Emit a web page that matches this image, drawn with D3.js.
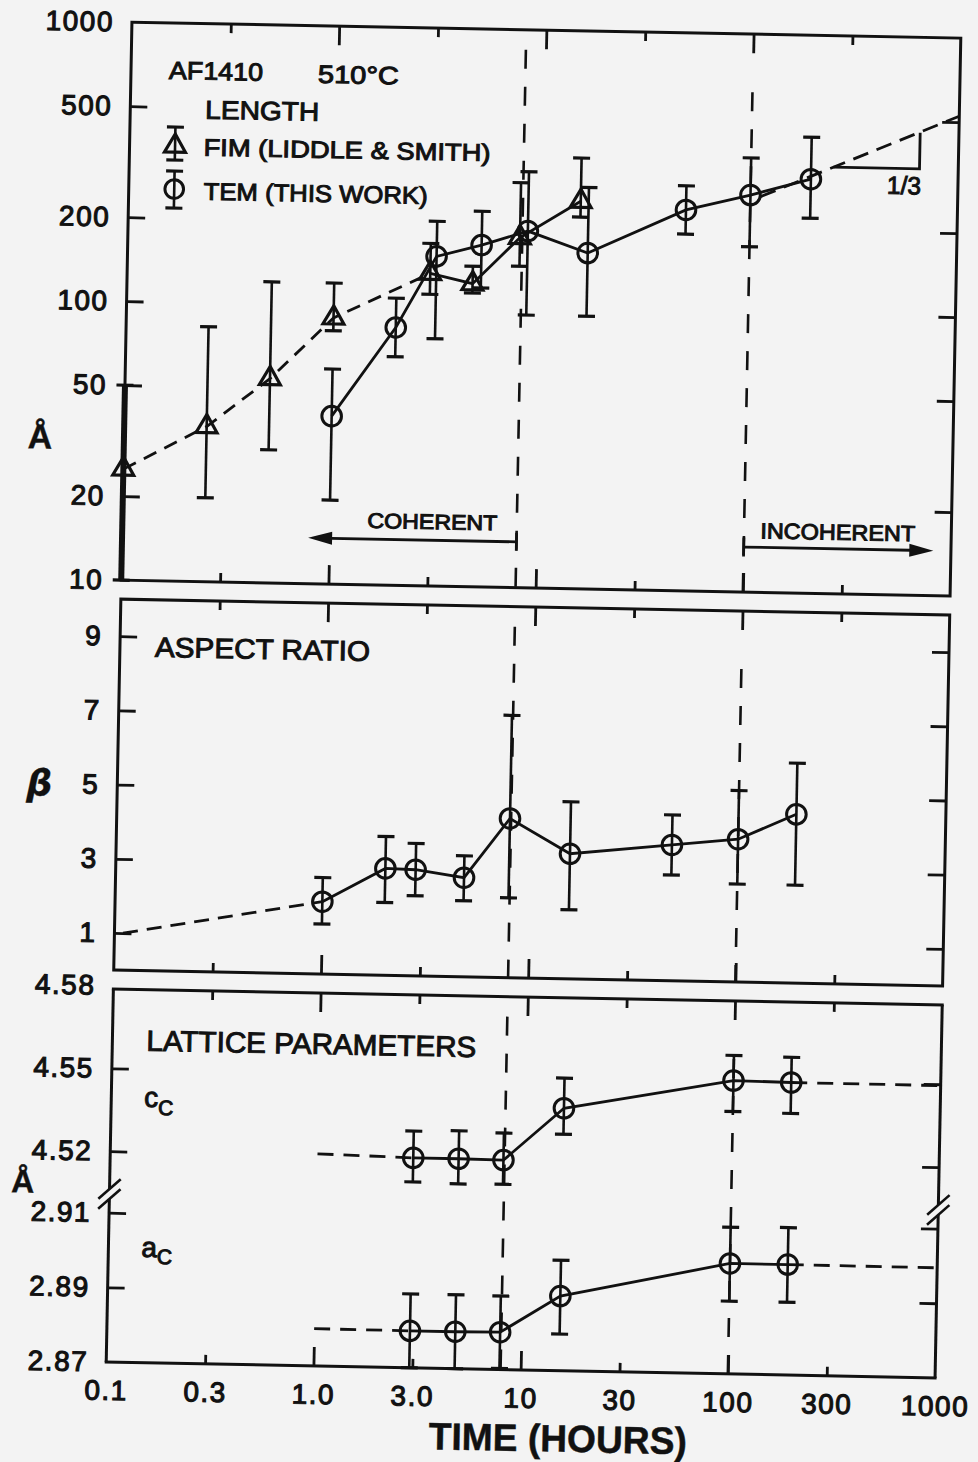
<!DOCTYPE html>
<html>
<head>
<meta charset="utf-8">
<script src="https://cdn.jsdelivr.net/npm/d3@7"></script>
<style>
  html, body { margin: 0; padding: 0; background: #f3f3f3; }
  svg { display: block; }
  text { font-family: "Liberation Sans", Arial, sans-serif; fill: #111; }
</style>
</head>
<body>
<script>
// ---- time axis ----
const timeTicks = [0.1, 0.3, 1, 3, 10, 30, 100, 300, 1000];
const timeTickLabels = ["0.1", "0.3", "1.0", "3.0", "10", "30", "100", "300", "1000"];
const timeMajor = [1, 10, 100];
const timeMinor = [0.3, 3, 30, 300];
const regimeBounds = [8, 100];

// ---- length panel (Å, log) ----
const lengthTicks = [20, 50, 100, 200, 500];
const lengthLabels = [10, 20, 50, 100, 200, 500, 1000];
const fimTime   = [0.1, 0.25, 0.5, 1.0, 2.9, 4.65, 7.8, 15.2];
const fimLength = [25, 36, 54, 90, 132, 122, 180, 245];
const fimLow    = [10, 20, 30, 81, 111, 113, 142, 215];
const fimHigh   = [50, 82, 120, 120, 169, 141, 283, 350];
const fimDashedCount = 5;
const temTime   = [1.0, 2.0, 3.1, 5.1, 8.5, 16.6, 49, 100, 195];
const temLength = [40, 84, 152, 168, 190, 160, 232, 265, 305];
const temLow    = [20, 66, 77, 118, 95, 95, 190, 173, 221];
const temHigh   = [59, 107, 203, 222, 310, 275, 283, 360, 431];
const lengthTrendTime = [112, 1000];
const lengthTrend     = [262, 525];

// ---- aspect ratio panel ----
const betaTicks = [1, 3, 5, 7, 9];
const betaTime = [1.0, 2.0, 2.8, 4.8, 7.9, 15.5, 48, 100, 190];
const beta     = [1.95, 2.88, 2.86, 2.67, 4.29, 3.37, 3.66, 3.85, 4.55];
const betaLow  = [1.35, 1.96, 2.16, 2.05, 2.15, 1.86, 2.85, 2.64, 2.64];
const betaHigh = [2.6, 3.74, 3.57, 3.26, 7.07, 4.77, 4.47, 5.16, 5.93];
const betaTrendTime = [0.11, 1.0];
const betaTrend     = [1.0, 1.95];

// ---- lattice parameter panel (Å) ----
const cTicks = [4.52, 4.55];
const cLabels = [4.52, 4.55, 4.58];
const aTicks = [2.89, 2.91];
const aLabels = [2.87, 2.89, 2.91];
const latticeTime = [2.9, 4.8, 7.9, 15.3, 100, 190];
const cLattice = [4.5197, 4.5197, 4.5195, 4.5387, 4.5499, 4.5496];
const cLow     = [4.5110, 4.5106, 4.5108, 4.5293, 4.5387, 4.5384];
const cHigh    = [4.5294, 4.5298, 4.5293, 4.5496, 4.5590, 4.5587];
const aLattice = [2.8799, 2.8799, 2.8800, 2.8900, 2.8996, 2.8996];
const aLow     = [2.8700, 2.8700, 2.8703, 2.8798, 2.8895, 2.8895];
const aHigh    = [2.8898, 2.8898, 2.8897, 2.8996, 2.9093, 2.9095];
const cTrendTime = [[1.0, 2.9], [190, 1000]];
const cTrend     = [[4.5205, 4.5197], [4.5496, 4.5495]];
const aTrendTime = [[1.0, 2.9], [190, 1000]];
const aTrend     = [[2.8800, 2.8799], [2.8996, 2.8995]];

// ---------------------------------------------------------------
const W = 978, H = 1462;
const INK = "#111";
const svg = d3.select("body").append("svg").attr("width", W).attr("height", H);
svg.append("rect").attr("width", W).attr("height", H).attr("fill", "#f3f3f3");
const g = svg.append("g").attr("transform", "rotate(1.1,530,700)");

const x = d3.scaleLog().domain([0.1, 1000]).range([119, 948]);
const X0 = x.range()[0], X1 = x.range()[1];

const p1 = { top: 30, bottom: 588 };
const y1 = d3.scaleLog().domain([10, 1000]).range([p1.bottom, p1.top]);
const p2 = { top: 607, bottom: 978 };
const y2 = d3.scaleLinear().domain([0, 10]).range([p2.bottom, p2.top]);
const p3 = { top: 997, bottom: 1370, brk: 1202 };
const y3c = d3.scaleLinear().domain([4.52, 4.55]).range([1159.2, 1076.3]);
const y3a = d3.scaleLinear().domain([2.87, 2.91]).range([1370, 1220.7]);

const LINE_W = 2.8, FRAME_W = 3, TICK_W = 2.8;

function styleAxis(sel) {
  sel.select(".domain").remove();
  sel.selectAll("line").attr("stroke", INK).attr("stroke-width", TICK_W);
}
function styleLabels(sel, size, spacing) {
  sel.select(".domain").remove();
  sel.selectAll("line").remove();
  sel.attr("font-family", null).attr("font-size", null);
  sel.selectAll("text")
    .attr("font-size", size).attr("letter-spacing", spacing || 1.5)
    .attr("fill", INK).attr("stroke", INK).attr("stroke-width", 1.1);
}

// time ticks on top and bottom of each panel, pointing inward
function timeTicksFor(top, bottom) {
  [[timeMajor, 19], [timeMinor, 9]].forEach(([vals, len]) => {
    g.append("g").attr("transform", `translate(0,${top})`)
      .call(d3.axisBottom(x).tickValues(vals).tickSize(len).tickFormat(""))
      .call(styleAxis);
    g.append("g").attr("transform", `translate(0,${bottom})`)
      .call(d3.axisTop(x).tickValues(vals).tickSize(len).tickFormat(""))
      .call(styleAxis);
  });
}
function valueTicks(scale, vals, len) {
  g.append("g").attr("transform", `translate(${X0},0)`)
    .call(d3.axisRight(scale).tickValues(vals).tickSize(len).tickFormat(""))
    .call(styleAxis);
  g.append("g").attr("transform", `translate(${X1},0)`)
    .call(d3.axisLeft(scale).tickValues(vals).tickSize(len).tickFormat(""))
    .call(styleAxis);
}
function valueLabels(scale, vals, fmt) {
  g.append("g").attr("transform", `translate(${X0},0)`)
    .call(d3.axisLeft(scale).tickValues(vals).tickSize(0).tickPadding(18).tickFormat(fmt))
    .call(s => styleLabels(s, 28, 1.5));
}

function frame(top, bottom) {
  g.append("rect").attr("x", X0).attr("y", top).attr("width", X1 - X0).attr("height", bottom - top)
    .attr("fill", "none").attr("stroke", INK).attr("stroke-width", FRAME_W);
}

function regimeLines(top, bottom) {
  const starts = [20, 58];
  regimeBounds.forEach((t, i) => {
    g.append("line").attr("x1", x(t)).attr("x2", x(t))
      .attr("y1", top + starts[i]).attr("y2", bottom)
      .attr("stroke", INK).attr("stroke-width", 2.6).attr("stroke-dasharray", "19,18");
  });
}

function errorBars(xs, lows, highs, yS, thickAtAxis) {
  const layer = g.append("g");
  xs.forEach((t, i) => {
    const cx = x(t), ya = yS(lows[i]), yb = yS(highs[i]);
    const wide = thickAtAxis && t <= x.domain()[0];
    layer.append("line").attr("x1", cx).attr("x2", cx).attr("y1", ya).attr("y2", yb)
      .attr("stroke", INK).attr("stroke-width", wide ? 6 : 2.6);
    [ya, yb].forEach(yy => layer.append("line")
      .attr("x1", cx - 8.5).attr("x2", cx + 8.5).attr("y1", yy).attr("y2", yy)
      .attr("stroke", INK).attr("stroke-width", 3.2));
  });
}

function path(xs, ys, yS, dash) {
  const line = d3.line().x(d => x(d[0])).y(d => yS(d[1]));
  g.append("path").datum(xs.map((t, i) => [t, ys[i]])).attr("d", line)
    .attr("fill", "none").attr("stroke", INK).attr("stroke-width", LINE_W)
    .attr("stroke-dasharray", dash || null);
}

const tri = d3.symbol().type(d3.symbolTriangle).size(190);
function markers(xs, ys, yS, kind) {
  xs.forEach((t, i) => {
    if (kind === "triangle") {
      g.append("path").attr("d", tri())
        .attr("transform", `translate(${x(t)},${yS(ys[i])})`)
        .attr("fill", "none").attr("stroke", INK).attr("stroke-width", 3.2);
    } else {
      g.append("circle").attr("cx", x(t)).attr("cy", yS(ys[i])).attr("r", 9.8)
        .attr("fill", "none").attr("stroke", INK).attr("stroke-width", 3);
    }
  });
}

function note(text, x0, y0, size, len, opts) {
  const o = opts || {};
  const t = g.append("text").attr("x", x0).attr("y", y0).attr("font-size", size)
    .attr("text-anchor", o.anchor || "start")
    .attr("font-weight", o.weight || "normal")
    .attr("font-style", o.italic ? "italic" : null)
    .attr("stroke", INK).attr("stroke-width", o.stroke == null ? 1.0 : o.stroke)
    .text(text);
  if (o.family) t.style("font-family", o.family);
  if (len) t.attr("textLength", len).attr("lengthAdjust", "spacingAndGlyphs");
  return t;
}

function arrowHead(xTip, yTip, dir) {
  const L = 24, hw = 6.5;
  g.append("path")
    .attr("d", `M${xTip},${yTip} L${xTip - dir * L},${yTip - hw} L${xTip - dir * L},${yTip + hw} Z`)
    .attr("fill", INK);
}

// ================= panel 1: length =================
frame(p1.top, p1.bottom);
timeTicksFor(p1.top, p1.bottom);
valueTicks(y1, lengthTicks, 17);
valueLabels(y1, lengthLabels, d => String(d));
regimeLines(p1.top, p1.bottom);

errorBars(fimTime, fimLow, fimHigh, y1, true);
errorBars(temTime, temLow, temHigh, y1, false);
path(fimTime.slice(0, fimDashedCount), fimLength.slice(0, fimDashedCount), y1, "14,9");
path(fimTime.slice(fimDashedCount - 1), fimLength.slice(fimDashedCount - 1), y1, null);
path(temTime, temLength, y1, null);
path(lengthTrendTime, lengthTrend, y1, "16,9");
markers(fimTime, fimLength, y1, "triangle");
markers(temTime, temLength, y1, "circle");

// slope triangle on the extrapolated trend
{
  const ta = 250, tb = 650, base = 338, top = 455;
  g.append("path")
    .attr("d", `M${x(ta)},${y1(base)} L${x(tb)},${y1(base)} L${x(tb)},${y1(top)}`)
    .attr("fill", "none").attr("stroke", INK).attr("stroke-width", LINE_W);
  note("1/3", 877, 187, 25, 34);
}

// legend
{
  const lx = 164.5;
  g.append("line").attr("x1", lx).attr("x2", lx).attr("y1", 134).attr("y2", 167).attr("stroke", INK).attr("stroke-width", 2.6);
  [134, 167].forEach(yy => g.append("line").attr("x1", lx - 8.5).attr("x2", lx + 8.5).attr("y1", yy).attr("y2", yy).attr("stroke", INK).attr("stroke-width", 3.2));
  g.append("path").attr("d", tri()).attr("transform", `translate(${lx},153)`).attr("fill", "none").attr("stroke", INK).attr("stroke-width", 3.2);
  g.append("line").attr("x1", lx).attr("x2", lx).attr("y1", 178).attr("y2", 215).attr("stroke", INK).attr("stroke-width", 2.6);
  [178, 215].forEach(yy => g.append("line").attr("x1", lx - 8.5).attr("x2", lx + 8.5).attr("y1", yy).attr("y2", yy).attr("stroke", INK).attr("stroke-width", 3.2));
  g.append("circle").attr("cx", lx).attr("cy", 196).attr("r", 9.3).attr("fill", "none").attr("stroke", INK).attr("stroke-width", 3);
}
note("AF1410", 157, 86, 25, 94);
note("510°C", 306, 87, 25, 81);
note("LENGTH", 194, 125, 26, 114);
note("FIM (LIDDLE & SMITH)", 193, 162, 24, 287);
note("TEM (THIS WORK)", 194, 206, 24, 224);

// coherent / incoherent regimes
{
  const yc = y1(14.6), xTip = x(0.79), xEnd = x(regimeBounds[0]);
  g.append("line").attr("x1", xTip + 10).attr("x2", xEnd).attr("y1", yc).attr("y2", yc).attr("stroke", INK).attr("stroke-width", LINE_W);
  arrowHead(xTip, yc, -1);
  g.append("line").attr("x1", xEnd).attr("x2", xEnd).attr("y1", yc - 9).attr("y2", yc + 9).attr("stroke", INK).attr("stroke-width", LINE_W);
  note("COHERENT", 364, 531, 21, 130);

  const yi = y1(14.5), xStart = x(regimeBounds[1]), xTip2 = x(822);
  g.append("line").attr("x1", xStart).attr("x2", xTip2 - 10).attr("y1", yi).attr("y2", yi).attr("stroke", INK).attr("stroke-width", LINE_W);
  arrowHead(xTip2, yi, 1);
  g.append("line").attr("x1", xStart).attr("x2", xStart).attr("y1", yi - 9.5).attr("y2", yi + 9.5).attr("stroke", INK).attr("stroke-width", LINE_W);
  note("INCOHERENT", 757, 534, 22, 155);
}

note("Å", 35, 458, 34, null, { anchor: "middle", weight: "bold", stroke: 0.4 });

// ================= panel 2: aspect ratio =================
frame(p2.top, p2.bottom);
timeTicksFor(p2.top, p2.bottom);
valueTicks(y2, betaTicks, 17);
valueLabels(y2, betaTicks, d => String(d));
regimeLines(p2.top, p2.bottom);
errorBars(betaTime, betaLow, betaHigh, y2, false);
path(betaTrendTime, betaTrend, y2, "15,9");
path(betaTime, beta, y2, null);
markers(betaTime, beta, y2, "circle");
note("ASPECT RATIO", 154, 664, 28, 215);
note("β", 41, 805, 36, null, { anchor: "middle", weight: "bold", italic: true, stroke: 0.3, family: "'DejaVu Sans', sans-serif" });

// ================= panel 3: lattice parameters =================
{
  // frame with broken sides
  const gap = 5;
  const fr = g.append("g").attr("fill", "none").attr("stroke", INK).attr("stroke-width", FRAME_W);
  fr.append("line").attr("x1", X0 - 1.5).attr("x2", X1 + 1.5).attr("y1", p3.top).attr("y2", p3.top);
  fr.append("line").attr("x1", X0 - 1.5).attr("x2", X1 + 1.5).attr("y1", p3.bottom).attr("y2", p3.bottom);
  [X0, X1].forEach(xx => {
    fr.append("line").attr("x1", xx).attr("x2", xx).attr("y1", p3.top).attr("y2", p3.brk - gap);
    fr.append("line").attr("x1", xx).attr("x2", xx).attr("y1", p3.brk + gap).attr("y2", p3.bottom);
    [-gap, gap].forEach(off => fr.append("line")
      .attr("x1", xx - 11).attr("x2", xx + 11)
      .attr("y1", p3.brk + off + 10).attr("y2", p3.brk + off - 10)
      .attr("stroke-width", 2.6));
  });
}
timeTicksFor(p3.top, p3.bottom);
valueTicks(y3c, cTicks, 17);
valueTicks(y3a, aTicks, 17);
valueLabels(y3c, cLabels, d3.format(".2f"));
valueLabels(y3a, aLabels, d3.format(".2f"));
regimeLines(p3.top, p3.bottom);

errorBars(latticeTime, cLow, cHigh, y3c, false);
errorBars(latticeTime, aLow, aHigh, y3a, false);
cTrendTime.forEach((ts, i) => path(ts, cTrend[i], y3c, "16,10"));
aTrendTime.forEach((ts, i) => path(ts, aTrend[i], y3a, "16,10"));
path(latticeTime, cLattice, y3c, null);
path(latticeTime, aLattice, y3a, null);
markers(latticeTime, cLattice, y3c, "circle");
markers(latticeTime, aLattice, y3a, "circle");

note("LATTICE PARAMETERS", 153, 1058, 29, 330);
{
  const c = note("c", 152, 1114, 28, null);
  c.append("tspan").attr("font-size", 21).attr("dy", 8).text("C");
  const a = note("a", 152, 1264, 28, null);
  a.append("tspan").attr("font-size", 21).attr("dy", 7).text("C");
}
note("Å", 32, 1202, 32, null, { anchor: "middle", weight: "bold", stroke: 0.4 });

// time labels under the bottom panel
g.append("g").attr("transform", `translate(0,${p3.bottom})`)
  .call(d3.axisBottom(x).tickValues(timeTicks).tickSize(0).tickPadding(18)
    .tickFormat((d, i) => timeTickLabels[i]))
  .call(s => styleLabels(s, 28, 1.5));

note("TIME (HOURS)", 572, 1451, 38, 258, { anchor: "middle", weight: "bold", stroke: 0.5 });
</script>
</body>
</html>
